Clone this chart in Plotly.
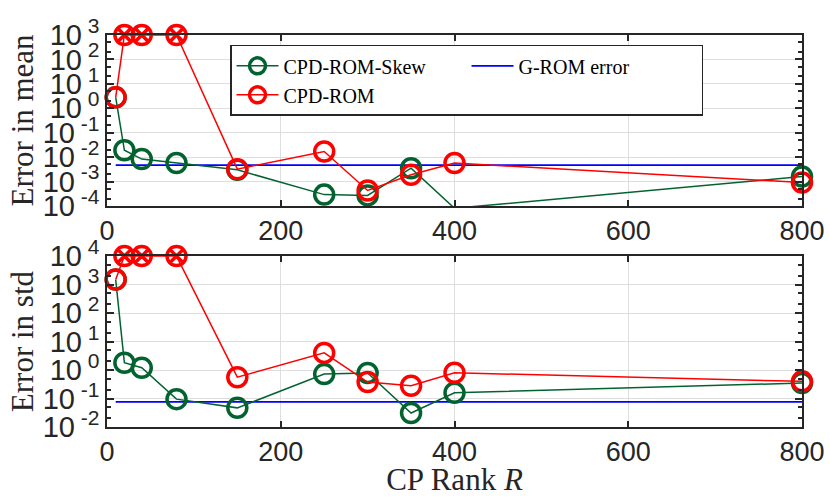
import plotly.graph_objects as go
from plotly.subplots import make_subplots

# CP ranks
rank = [10, 20, 40, 80, 150, 250, 300, 350, 400, 800]

# error in mean
mean_skew = [2.8, 1.9e-2, 8.3e-3, 5.7e-3, 3.0e-3, 2.9e-4, 2.7e-4, 3.5e-3, 8e-5, 1.6e-3]
mean_rom = [2.8, 1e3, 1e3, 1e3, 3.2e-3, 1.7e-2, 4.3e-4, 1.9e-3, 5.7e-3, 9e-4]
grom_mean = 4.7e-3

# error in std
std_skew = [1.5e3, 1.8, 1.2, 0.095, 0.047, 0.72, 0.79, 0.031, 0.16, 0.35]
std_rom = [1.5e3, 1e4, 1e4, 1e4, 0.56, 4.0, 0.38, 0.28, 0.8, 0.4]
grom_std = 0.076

mean_exp = [-4, -3, -2, -1, 0, 1, 2, 3]
std_exp = [-2, -1, 0, 1, 2, 3, 4]

green = "#03632f"
red = "#ff0000"
blue = "#0000ff"
axcol = "#262626"


def styles(vals, lo, hi):
    # points above the range are capped and flagged with an x, points below hidden
    sym = ["circle-x-open" if v >= hi else "circle-open" for v in vals]
    size = [0 if v < lo else 19 for v in vals]
    return sym, size


def labels(exps):
    return ["10<sup><span style='font-size:21px'> %d</span></sup>" % e for e in exps]


fig = make_subplots(rows=2, cols=1)

panels = [
    (1, mean_skew, mean_rom, grom_mean, 1e-4, 1e3),
    (2, std_skew, std_rom, grom_std, 1e-2, 1e4),
]
for row, sk, rm, g, lo, hi in panels:
    first = row == 1
    fig.add_trace(go.Scatter(x=[rank[0], rank[-1]], y=[g, g], mode="lines",
                             line=dict(color=blue, width=1.8), name="G-ROM error",
                             legendrank=2, showlegend=first), row=row, col=1)
    s, z = styles(sk, lo, hi)
    fig.add_trace(go.Scatter(x=rank, y=sk, mode="lines+markers", name="CPD-ROM-Skew",
                             line=dict(color=green, width=1.5),
                             marker=dict(symbol=s, size=z, color=green, opacity=1,
                                         line=dict(width=3.5, color=green)),
                             cliponaxis=False, legendrank=1, showlegend=first), row=row, col=1)
    s, z = styles(rm, lo, hi)
    fig.add_trace(go.Scatter(x=rank, y=rm, mode="lines+markers", name="CPD-ROM",
                             line=dict(color=red, width=1.5),
                             marker=dict(symbol=s, size=z, color=red, opacity=1,
                                         line=dict(width=3.5, color=red)),
                             cliponaxis=False, legendrank=3, showlegend=first), row=row, col=1)
    # cross inside the capped (diverged) CPD-ROM points
    capped = [(r, v) for r, v in zip(rank, rm) if v >= hi]
    fig.add_trace(go.Scatter(x=[c[0] for c in capped], y=[c[1] for c in capped], mode="markers",
                             marker=dict(symbol="x-thin-open", size=15, color=red,
                                         line=dict(width=2.5, color=red)),
                             cliponaxis=False, showlegend=False, hoverinfo="skip"),
                  row=row, col=1)

xcommon = dict(range=[0, 800], tickvals=[0, 200, 400, 600, 800],
               tickfont=dict(family="Liberation Sans", size=27, color=axcol),
               showline=True, linecolor=axcol, linewidth=1.5, mirror="ticks",
               ticks="inside", ticklen=6, tickcolor=axcol, tickwidth=1.5,
               showgrid=True, gridcolor="#dedede", gridwidth=1, zeroline=False,
               automargin=False)
fig.update_xaxes(**xcommon)
fig.update_xaxes(title=dict(text="CP Rank <i>R</i>", standoff=6,
                            font=dict(family="Liberation Serif", size=31, color=axcol)),
                 row=2, col=1)

ycommon = dict(type="log", showline=True, linecolor=axcol, linewidth=1.5, mirror="ticks",
               ticks="inside", ticklen=7, tickcolor=axcol, tickwidth=1.5,
               tickfont=dict(family="Liberation Sans", size=29, color=axcol),
               minor=dict(ticks="inside", ticklen=4, tickcolor=axcol, showgrid=False),
               showgrid=True, gridcolor="#dedede", gridwidth=1, zeroline=False,
               automargin=False)
fig.update_yaxes(**ycommon)
fig.update_yaxes(range=[-4, 3], domain=[0.564, 1],
                 tickvals=[10 ** e for e in mean_exp], ticktext=labels(mean_exp),
                 title=dict(text="Error in mean", standoff=0,
                            font=dict(family="Liberation Serif", size=31, color=axcol)),
                 row=1, col=1)
fig.update_yaxes(range=[-2, 4], domain=[0, 0.436],
                 tickvals=[10 ** e for e in std_exp], ticktext=labels(std_exp),
                 title=dict(text="Error in std", standoff=0,
                            font=dict(family="Liberation Serif", size=31, color=axcol)),
                 row=2, col=1)

fig.update_layout(
    width=830, height=497,
    margin=dict(l=107, r=28, t=35, b=70),
    plot_bgcolor="white", paper_bgcolor="white",
    legend=dict(orientation="h", x=0.177, y=0.975, xanchor="left", yanchor="top",
                entrywidth=178, itemwidth=42, traceorder="normal",
                font=dict(family="Liberation Serif", size=20, color="black"),
                bgcolor="white", bordercolor=axcol, borderwidth=1.5),
)

fig.write_html("out.html", config={"displayModeBar": False},
               post_script="document.body.style.margin = '0px';")
